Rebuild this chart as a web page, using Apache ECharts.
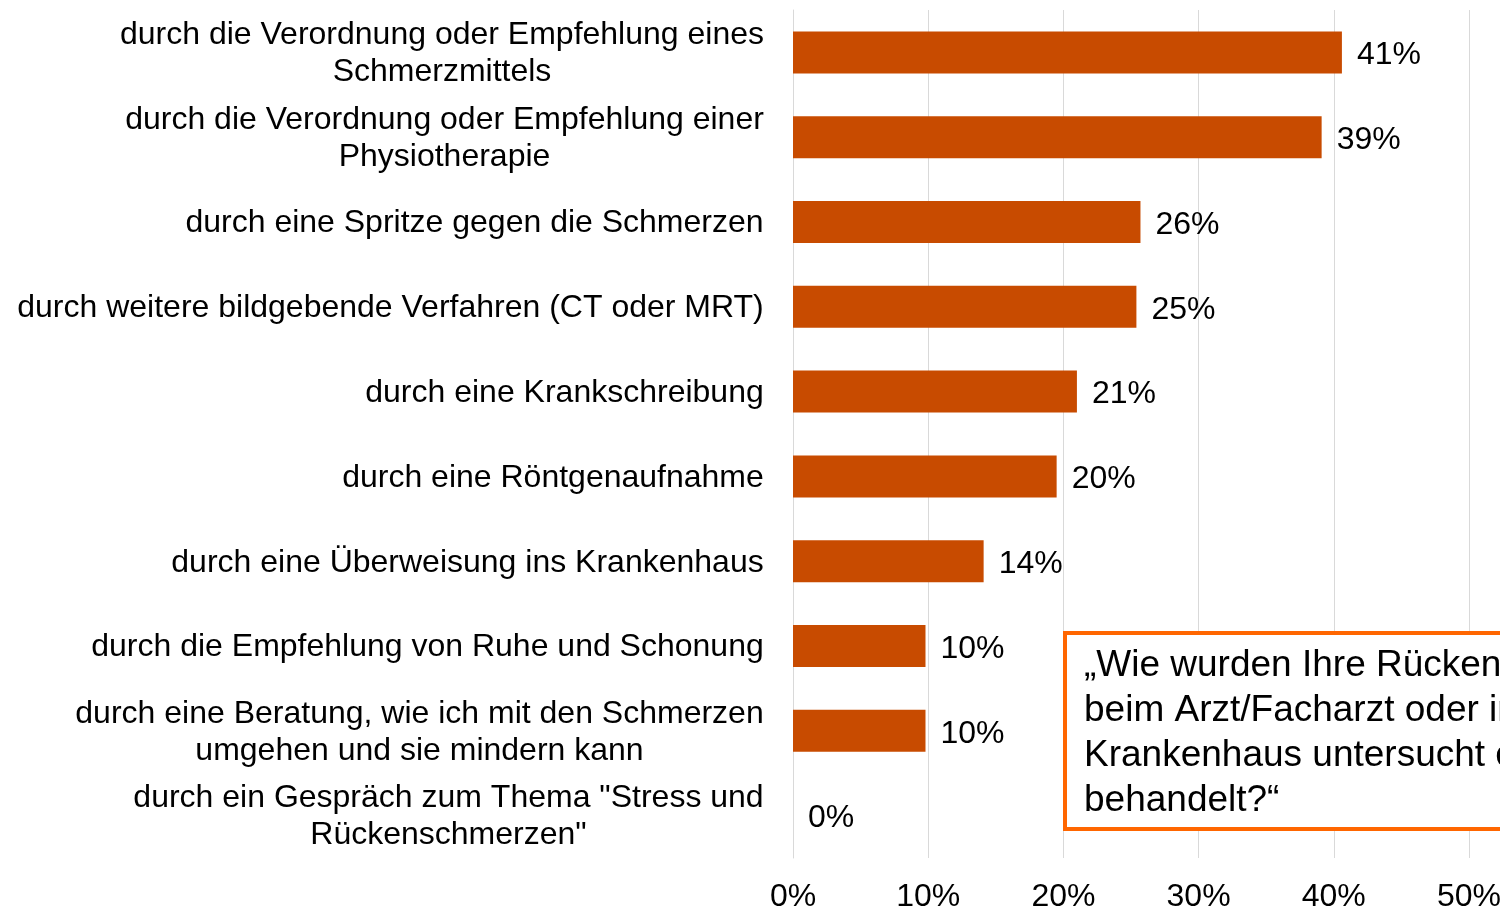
<!DOCTYPE html>
<html>
<head>
<meta charset="utf-8">
<script src="https://cdn.jsdelivr.net/npm/echarts@6/dist/echarts.min.js"></script>
<style>
  html, body { margin: 0; padding: 0; background: #fff; }
  #chart { width: 1500px; height: 909px; }
</style>
</head>
<body>
<div id="chart"></div>
<script>
// categories, top to bottom as shown
var categories = [
    'durch die Verordnung oder Empfehlung eines\nSchmerzmittels',
    'durch die Verordnung oder Empfehlung einer\nPhysiotherapie',
    'durch eine Spritze gegen die Schmerzen',
    'durch weitere bildgebende Verfahren (CT oder MRT)',
    'durch eine Krankschreibung',
    'durch eine Röntgenaufnahme',
    'durch eine Überweisung ins Krankenhaus',
    'durch die Empfehlung von Ruhe und Schonung',
    'durch eine Beratung, wie ich mit den Schmerzen\numgehen und sie mindern kann',
    'durch ein Gespräch zum Thema "Stress und\nRückenschmerzen"'
];
// share of respondents (%)
var values = [40.6, 39.1, 25.7, 25.4, 21.0, 19.5, 14.1, 9.8, 9.8, 0];
var axisTicks = [0, 10, 20, 30, 40, 50];
var questionText = '„Wie wurden Ihre Rückenschmerzen\nbeim Arzt/Facharzt oder im\nKrankenhaus untersucht oder\nbehandelt?“';

var font = '"Liberation Sans", Arial, sans-serif';
var labelSize = 32;

// wrapped labels: lines centred on each other, block right-aligned at the axis
var ctx = document.createElement('canvas').getContext('2d');
ctx.font = labelSize + 'px ' + font;
var rich = {};
categories.forEach(function (c, i) {
    var w = 0;
    c.split('\n').forEach(function (line) {
        w = Math.max(w, ctx.measureText(line).width);
    });
    rich['c' + i] = {
        width: Math.ceil(w),
        align: 'center',
        fontFamily: font,
        fontSize: labelSize,
        lineHeight: 37,
        color: '#000'
    };
});

var chart = echarts.init(document.getElementById('chart'));
chart.setOption({
    animation: false,
    grid: { left: 793, right: 31, top: 10, bottom: 51, containLabel: false, outerBoundsMode: 'none' },
    xAxis: {
        type: 'value',
        min: axisTicks[0],
        max: axisTicks[axisTicks.length - 1],
        interval: 10,
        axisLine: { show: false },
        axisTick: { show: false },
        splitLine: { show: true, lineStyle: { color: '#d9d9d9', width: 1 } },
        axisLabel: {
            formatter: '{value}%',
            fontFamily: font,
            fontSize: 32,
            color: '#000',
            margin: 23
        }
    },
    yAxis: {
        type: 'category',
        inverse: true,
        data: categories,
        axisLine: { show: true, lineStyle: { color: '#d9d9d9' } },
        axisTick: { show: false },
        axisLabel: {
            fontFamily: font,
            fontSize: labelSize,
            lineHeight: 37,
            color: '#000',
            margin: 29,
            align: 'right',
            padding: [3, 0, 0, 0],
            rich: rich,
            formatter: function (v, i) {
                return v.split('\n').map(function (line) {
                    return '{c' + i + '|' + line + '}';
                }).join('\n');
            }
        }
    },
    series: [{
        type: 'bar',
        data: values,
        barWidth: 42,
        itemStyle: { color: '#c84b00' },
        label: {
            show: true,
            position: 'right',
            distance: 15,
            offset: [0, 3],
            fontFamily: font,
            fontSize: 32,
            color: '#000',
            formatter: function (p) { return Math.round(p.value) + '%'; }
        }
    }],
    graphic: [{
        type: 'group',
        left: 1063,
        top: 631,
        z: 100,
        children: [{
            type: 'rect',
            z: 100,
            shape: { x: 0, y: 0, width: 480, height: 196 },
            style: { fill: '#fff', stroke: '#ff6600', lineWidth: 4 }
        }, {
            type: 'text',
            z: 101,
            x: 19,
            y: 10,
            style: {
                text: questionText,
                fontFamily: font,
                fontSize: 37,
                lineHeight: 45,
                fill: '#000'
            }
        }]
    }]
});
</script>
</body>
</html>
